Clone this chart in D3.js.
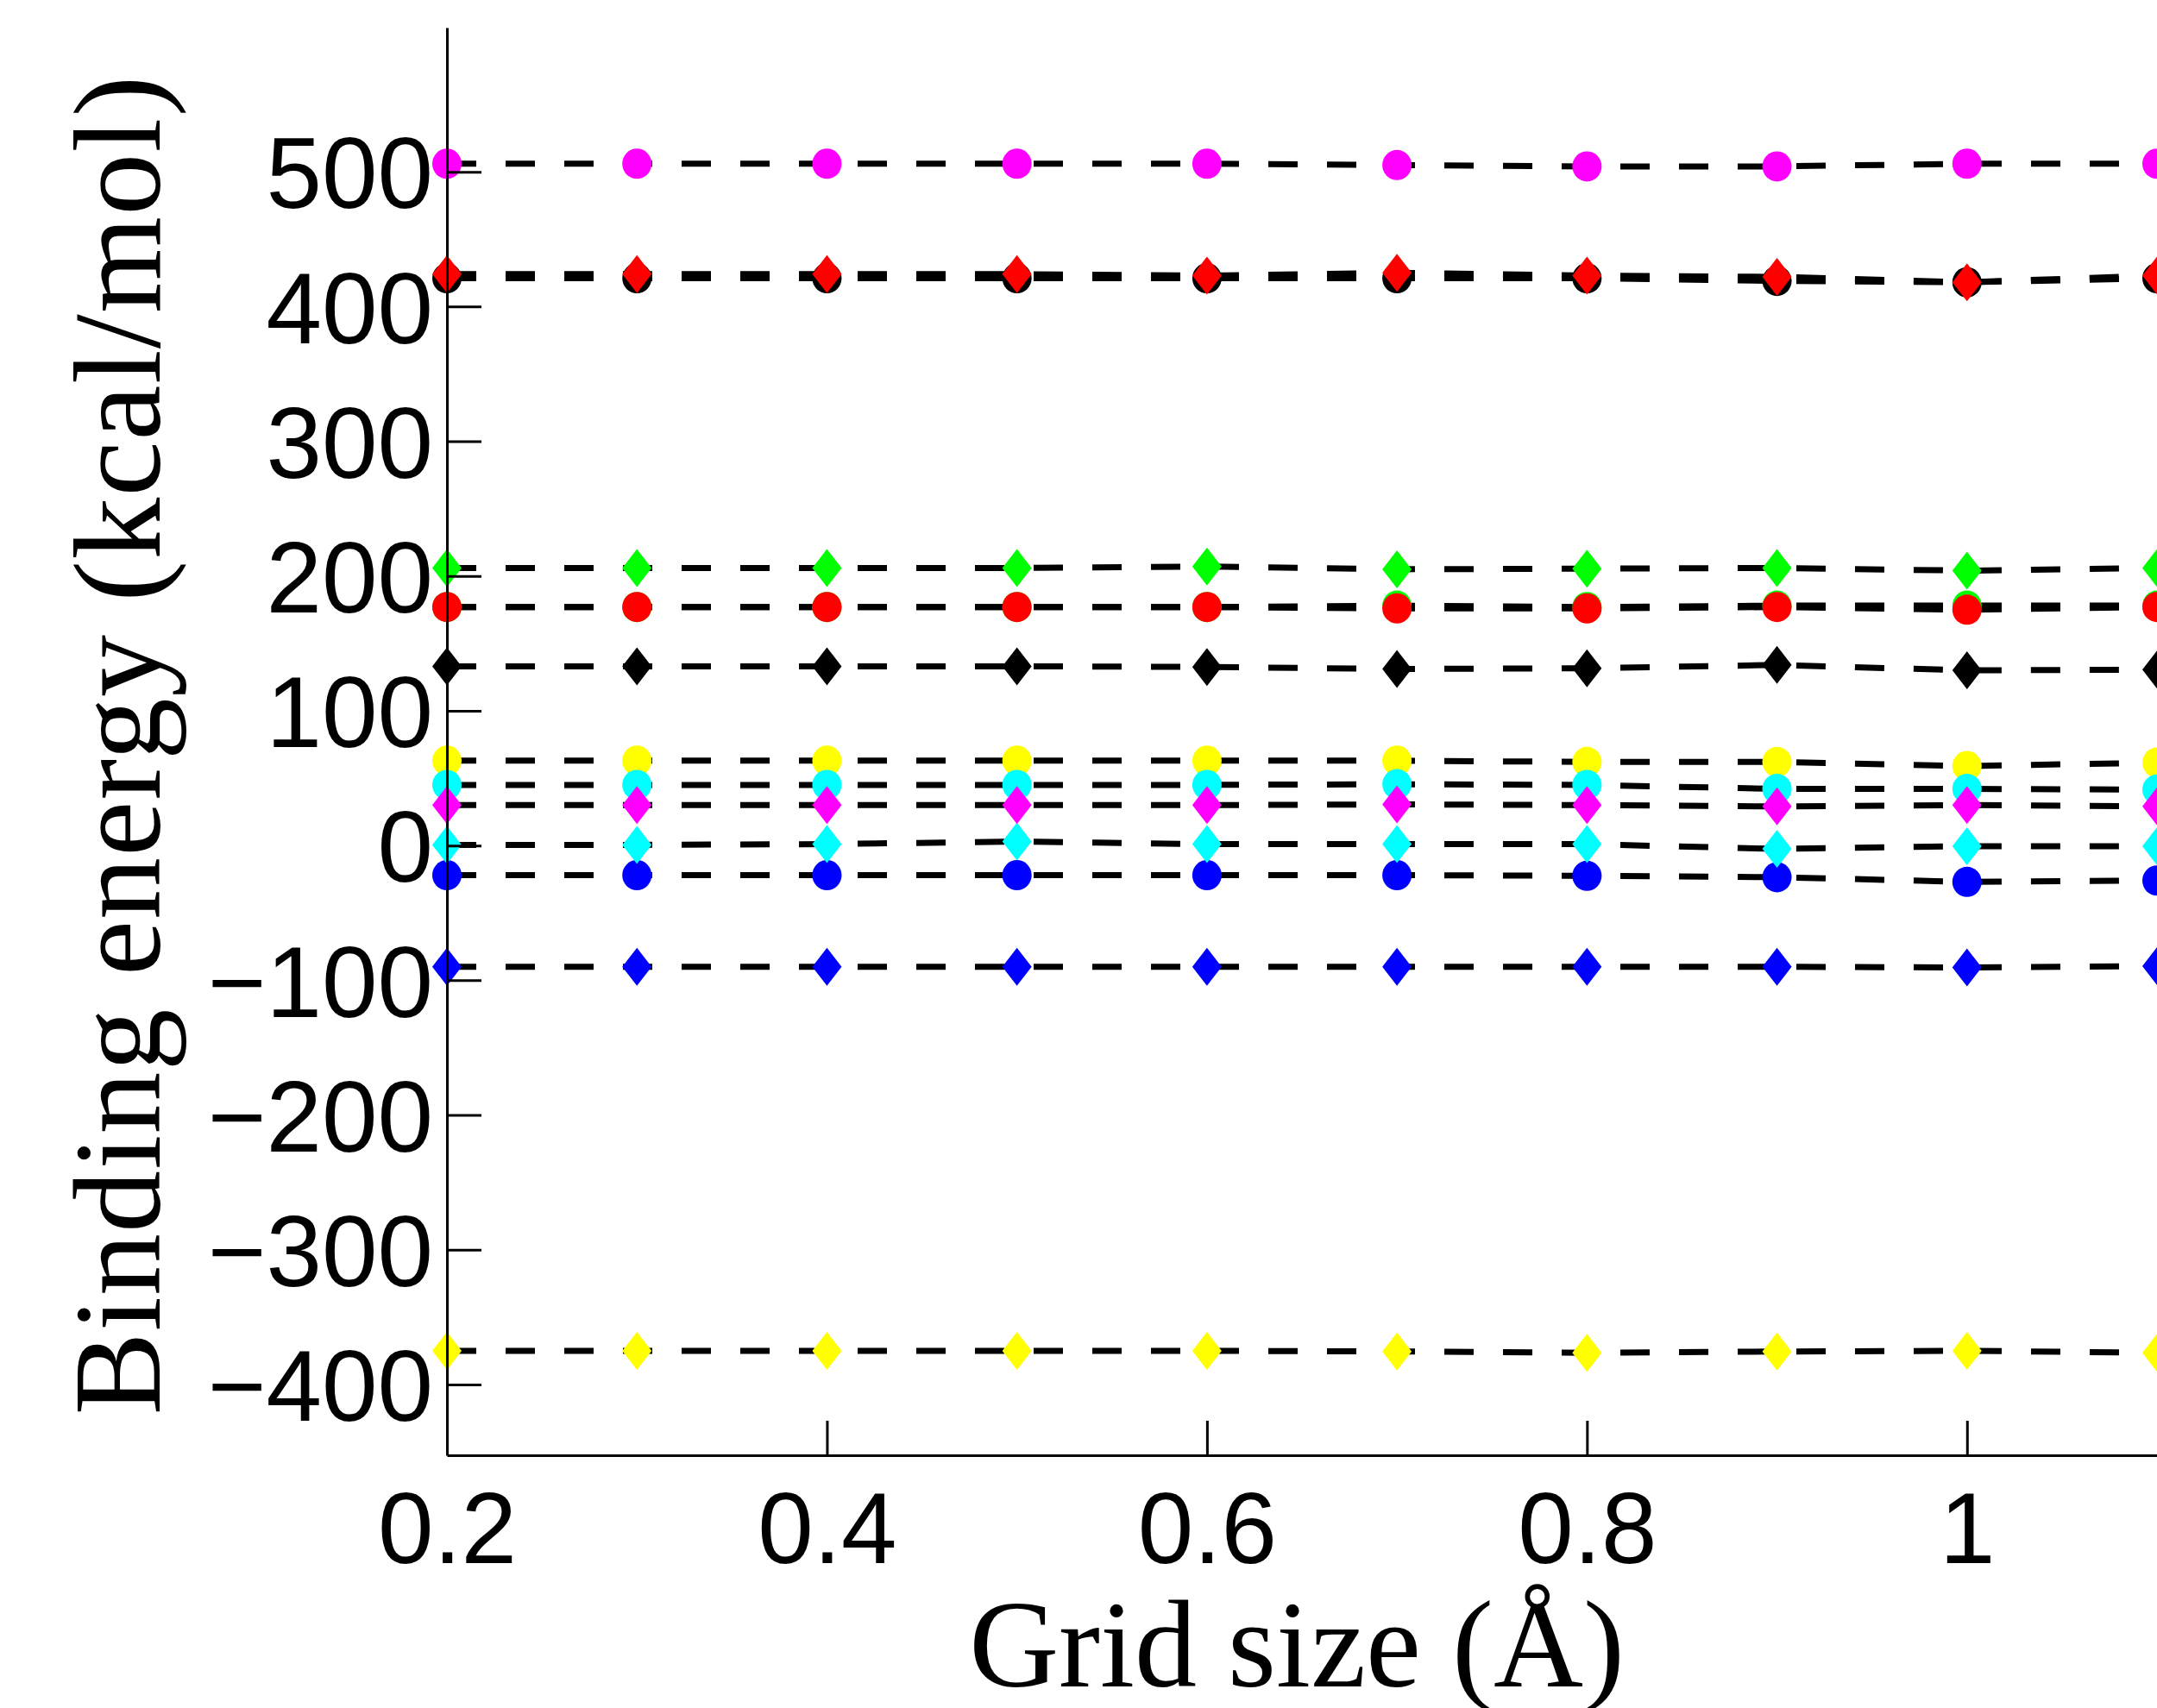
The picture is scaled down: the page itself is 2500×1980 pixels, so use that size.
<!DOCTYPE html>
<html><head>
<meta charset="utf-8">
<title>Binding energy vs grid size</title>
<script src="https://d3js.org/d3.v7.min.js"></script>
<style>
  body { margin: 0; background: #fff; }
  svg { display: block; }
  .tick text { font-family: "Liberation Sans", Arial, sans-serif; }
  text.label { font-family: "Liberation Serif", "Times New Roman", serif; }
</style>
</head>
<body>
<svg id="chart" width="2500" height="1980"></svg>
<script>

// grid sizes (x)
const gridSizes = [0.2, 0.3, 0.4, 0.5, 0.6, 0.7, 0.8, 0.9, 1.0, 1.1];

// binding energies, one array per complex/method
const blackCircle   = [421, 421, 421, 421, 421, 421, 421, 419, 418, 421];
const blackDiamond  = [133, 133, 133, 133, 132.5, 131, 131.5, 134, 130, 130.5];
const greenCircle   = [177, 177, 177, 177, 177, 178, 177, 178, 178, 178];
const greenDiamond  = [206, 206, 206, 206, 207, 205, 205.5, 206, 204, 206];
const yellowCircle  = [63, 63, 63, 63, 63, 63, 62, 62, 59, 61.5];
const yellowDiamond = [-375, -375, -375, -375, -375, -375.5, -376.5, -375.5, -375, -376.5];
const blueCircle    = [-22, -22, -22, -22, -22, -22, -22.5, -23.5, -27, -26];
const blueDiamond   = [-90, -90, -90, -90, -90, -90, -90, -90, -90.5, -89.5];
const cyanCircle    = [45, 45, 45, 45, 45, 45.5, 45, 42, 42, 41.5];
const cyanDiamond   = [0.5, 0.5, 1, 3, 1, 1, 1, -2.5, -0.5, -0.5];
const magentaCircle = [506, 506, 506, 506, 506, 505, 504, 504, 506, 506];
const magentaDiamond= [30, 30, 30, 30, 30, 30.5, 30, 29, 30, 29];
const redCircle     = [177, 177, 177, 177, 177, 176, 176, 177, 175, 177];
const redDiamond    = [424, 424, 424, 424, 423, 425, 423, 422, 418, 423];

const xTicks = [0.2, 0.4, 0.6, 0.8, 1];
const yTicks = [-400, -300, -200, -100, 0, 100, 200, 300, 400, 500];

// draw order matters for overlaps (later on top)
const series = [
  { values: blackCircle,    color: "#000000", shape: "o" },
  { values: blackDiamond,   color: "#000000", shape: "d" },
  { values: greenCircle,    color: "#00ff00", shape: "o" },
  { values: greenDiamond,   color: "#00ff00", shape: "d" },
  { values: yellowCircle,   color: "#ffff00", shape: "o" },
  { values: yellowDiamond,  color: "#ffff00", shape: "d" },
  { values: blueCircle,     color: "#0000ff", shape: "o" },
  { values: blueDiamond,    color: "#0000ff", shape: "d" },
  { values: cyanCircle,     color: "#00ffff", shape: "o" },
  { values: cyanDiamond,    color: "#00ffff", shape: "d" },
  { values: magentaCircle,  color: "#ff00ff", shape: "o" },
  { values: magentaDiamond, color: "#ff00ff", shape: "d" },
  { values: redCircle,      color: "#ff0000", shape: "o" },
  { values: redDiamond,     color: "#ff0000", shape: "d" }
];

const svg = d3.select("#chart");
const width = +svg.attr("width");

const x = d3.scaleLinear().domain([0.2, 1.1]).range([518, width]);
const y = d3.scaleLinear().domain([-452.5, 607]).range([1687, 32]);

// dashed connecting lines first
const line = d3.line().x((d, i) => x(gridSizes[i])).y(d => y(d));
svg.append("g").selectAll("path").data(series).join("path")
   .attr("d", d => line(d.values))
   .attr("fill", "none")
   .attr("stroke", "#000")
   .attr("stroke-width", 7)
   .attr("stroke-dasharray", "34,34");

// markers
const rw = 17, rh = 22;
const diamond = `M0,${-rh}L${rw},0L0,${rh}L${-rw},0Z`;

const markers = svg.append("g");
series.forEach(s => {
  const pts = s.values.map((v, i) => ({ gx: gridSizes[i], v: v }));
  if (s.shape === "o") {
    markers.append("g").selectAll("ellipse").data(pts).join("ellipse")
      .attr("cx", d => x(d.gx)).attr("cy", d => y(d.v))
      .attr("rx", 17).attr("ry", 17.5)
      .attr("fill", s.color);
  } else {
    markers.append("g").selectAll("path").data(pts).join("path")
      .attr("d", diamond)
      .attr("transform", d => `translate(${x(d.gx)},${y(d.v)})`)
      .attr("fill", s.color);
  }
});

// axes
const fontSize = 116;
const yAxis = svg.append("g").attr("transform", `translate(${x(0.2)},0)`)
  .call(d3.axisLeft(y).tickValues(yTicks).tickSizeInner(-40).tickSizeOuter(0).tickPadding(16));
const xAxis = svg.append("g").attr("transform", `translate(0,${y.range()[0]})`)
  .call(d3.axisBottom(x).tickValues(xTicks).tickFormat(d3.format("")).tickSizeInner(-40).tickSizeOuter(0).tickPadding(43));

[yAxis, xAxis].forEach(a => {
  a.select(".domain").attr("stroke", "#000").attr("stroke-width", 3);
  a.selectAll(".tick line").attr("stroke", "#000").attr("stroke-width", 3);
  a.selectAll(".tick text").attr("font-size", fontSize).attr("fill", "#000")
   .attr("font-family", "Liberation Sans, Arial, sans-serif");
});
yAxis.selectAll(".tick text").attr("dy", "0.36em");

// axis labels
svg.append("text").attr("class", "label")
   .attr("x", 1503).attr("y", 1955)
   .attr("text-anchor", "middle")
   .attr("font-size", 144)
   .text("Grid size (Å)");

svg.append("text").attr("class", "label")
   .attr("transform", "translate(185,864) rotate(-90)")
   .attr("text-anchor", "middle")
   .attr("font-size", 144)
   .attr("textLength", 1553)
   .attr("lengthAdjust", "spacing")
   .text("Binding energy (kcal/mol)");

</script>
</body>
</html>
